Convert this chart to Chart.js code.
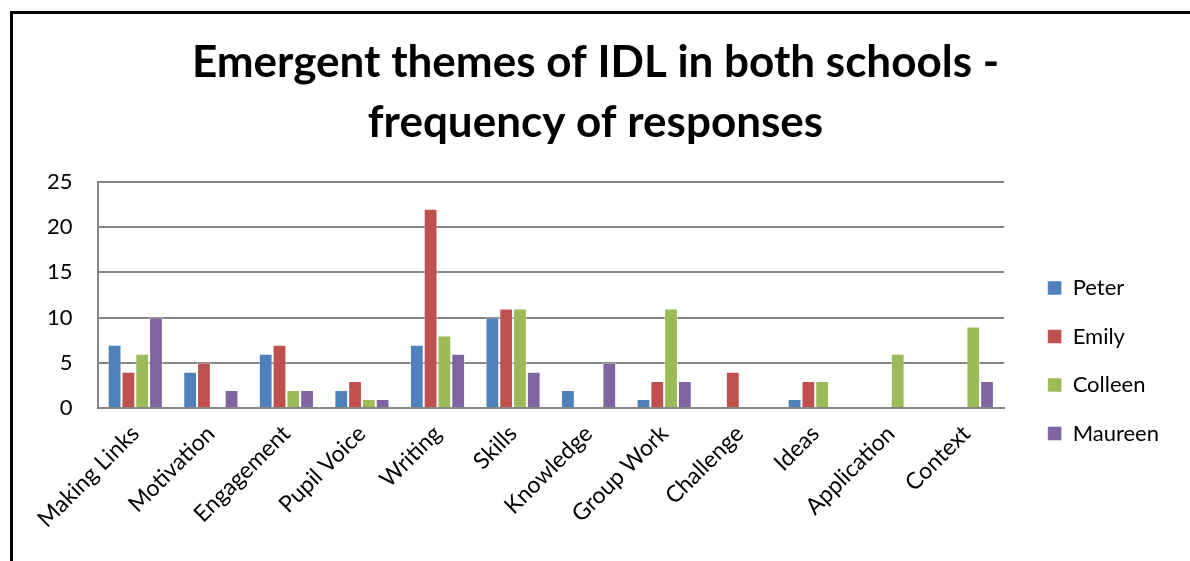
<!DOCTYPE html>
<html>
<head>
<meta charset="utf-8">
<script src="https://cdn.jsdelivr.net/npm/chart.js@4/dist/chart.umd.min.js"></script>
<style>
  html, body { margin: 0; padding: 0; background: #fff; }
  #wrap {
    position: absolute; left: 10px; top: 11px;
    width: 1190px; height: 560px;
    border-left: 3px solid #000; border-top: 3px solid #000;
  }
  #frame { position: absolute; left: 0; top: 0; width: 1190px; height: 561px; }
</style>
</head>
<body>
<div id="wrap"></div>
<div id="frame"><canvas id="myChart" width="1190" height="561"></canvas></div>
<script>
// themes along the x axis
var themes = ['Making Links', 'Motivation', 'Engagement', 'Pupil Voice', 'Writing', 'Skills',
  'Knowledge', 'Group Work', 'Challenge', 'Ideas', 'Application', 'Context']

// responses per teacher
var peter   = [7, 4, 6, 2, 7, 10, 2, 1, 0, 1, 0, 0]
var emily   = [4, 5, 7, 3, 22, 11, 0, 3, 4, 3, 0, 0]
var colleen = [6, 0, 2, 1, 8, 11, 0, 11, 0, 3, 6, 9]
var maureen = [10, 2, 2, 1, 6, 4, 5, 3, 0, 0, 0, 3]

var yTicks = [0, 5, 10, 15, 20, 25]

var font = "Lato, 'Open Sans', sans-serif"

function series(name, values, colour) {
  return {
    label: name,
    data: values,
    backgroundColor: colour,
    borderColor: 'rgba(255,255,255,0.5)',
    borderWidth: 1,
    categoryPercentage: 0.73,
    barPercentage: 1
  }
}

const config = {
  type: 'bar',
  data: {
    labels: themes,
    datasets: [
      series('Peter', peter, '#4F81BD'),
      series('Emily', emily, '#C0504D'),
      series('Colleen', colleen, '#9BBB59'),
      series('Maureen', maureen, '#8064A2')
    ]
  },
  options: {
    responsive: false,
    animation: false,
    layout: { padding: { left: 22, right: 21, top: 0, bottom: 24 } },
    plugins: {
      title: {
        display: true,
        text: ['Emergent themes of IDL in both schools -', 'frequency of responses'],
        color: '#000',
        font: { family: font, size: 44, weight: 'bold', lineHeight: 1.36 },
        padding: { top: 33, bottom: 29 }
      },
      legend: {
        position: 'right',
        // empty title only pushes the entries down
        title: { display: true, text: '', padding: { top: 170, bottom: 0 } },
        labels: {
          color: '#000',
          font: { family: font, size: 22 },
          boxWidth: 14, boxHeight: 14,
          padding: 26.5
        }
      },
      tooltip: { enabled: false }
    },
    scales: {
      x: {
        grid: { display: false },
        border: { color: '#868686', width: 2 },
        ticks: {
          color: '#000',
          font: { family: font, size: 23 },
          minRotation: 45, maxRotation: 45,
          padding: 4
        }
      },
      y: {
        min: 0, max: 25,
        afterBuildTicks: function(axis) { axis.ticks = yTicks.map(function(v) { return { value: v } }) },
        grid: { color: '#868686', lineWidth: 2, drawTicks: false },
        border: { color: '#868686', width: 2 },
        ticks: {
          color: '#000',
          font: { family: font, size: 22 },
          padding: 25
        }
      },
      // blank right axis, only keeps a gap before the legend
      gap: {
        type: 'linear',
        position: 'right',
        grid: { display: false },
        border: { display: false },
        ticks: { display: false },
        afterFit: function(axis) { axis.width = 17 }
      }
    }
  }
}

const myChart = new Chart(document.getElementById('myChart'), config)
</script>
</body>
</html>
